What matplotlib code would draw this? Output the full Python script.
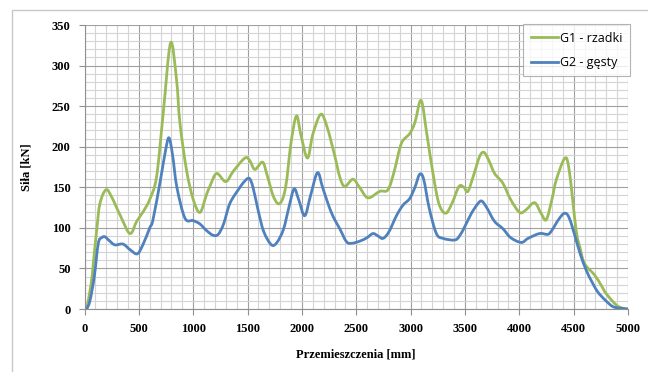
import matplotlib
matplotlib.use("Agg")
import matplotlib.pyplot as plt
from matplotlib.patches import Rectangle, PathPatch
from matplotlib.path import Path
from matplotlib.lines import Line2D
from matplotlib.ticker import MultipleLocator

# G1 - rzadki
g1_x = [20, 60, 81, 112, 142, 198, 250, 330, 418, 480, 540, 600, 663, 724, 792,
        847, 878, 939, 1000, 1062, 1120, 1153, 1215, 1300, 1370, 1475, 1520, 1567,
        1638, 1680, 1740, 1797, 1850, 1900, 1950, 1990, 2051, 2100, 2173, 2230,
        2300, 2348, 2394, 2470, 2530, 2608, 2716, 2792, 2850, 2915, 2991, 3040,
        3097, 3150, 3206, 3260, 3322, 3380, 3445, 3490, 3527, 3580, 3635, 3675,
        3720, 3773, 3849, 3920, 4003, 4060, 4140, 4200, 4248, 4300, 4340, 4420,
        4460, 4523, 4560, 4600, 4692, 4750, 4799, 4891, 4950, 5000]
g1_y = [0, 30, 56, 97, 130, 147, 138, 115, 93, 108, 120, 135, 163, 241, 328,
        282, 229, 171, 135, 119, 140, 151, 167, 157, 170, 186, 183, 172,
        181, 165, 138, 130, 150, 205, 238, 215, 186, 215, 240, 225,
        190, 163, 151, 160, 150, 137, 145, 147, 170, 204, 216, 230,
        257, 215, 167, 130, 118, 130, 151, 150, 145, 165, 188, 193,
        183, 167, 155, 135, 119, 122, 131, 118, 110, 135, 159, 186,
        170, 97, 75, 56, 42, 30, 19, 5, 1, 0]

# G2 - gesty
g2_x = [20, 50, 90, 127, 160, 188, 230, 280, 354, 420, 486, 540, 600, 630, 700,
        745, 777, 810, 850, 924, 998, 1060, 1120, 1181, 1230, 1280, 1337, 1420,
        1470, 1515, 1550, 1600, 1650, 1720, 1770, 1830, 1880, 1928, 1970, 2026,
        2080, 2143, 2190, 2240, 2287, 2348, 2410, 2460, 2540, 2600, 2654, 2700,
        2746, 2800, 2870, 2930, 2991, 3040, 3083, 3120, 3170, 3237, 3300, 3405,
        3450, 3500, 3560, 3620, 3655, 3700, 3772, 3849, 3920, 4018, 4080, 4186,
        4262, 4300, 4360, 4416, 4460, 4523, 4560, 4615, 4670, 4722, 4790, 4860,
        4930, 5000]
g2_y = [0, 10, 40, 81, 88, 89, 84, 79, 80, 73, 68, 80, 100, 110, 160,
        195, 211, 190, 150, 112, 109, 105, 97, 91, 92, 105, 130, 148,
        157, 161, 150, 120, 95, 79, 82, 98, 125, 148, 135, 115,
        140, 168, 150, 130, 114, 99, 83, 81, 84, 88, 93, 90,
        87, 95, 115, 128, 136, 150, 166, 160, 125, 93, 87, 85,
        90, 102, 118, 130, 133, 125, 108, 99, 88, 82, 87, 93,
        92, 97, 110, 118, 112, 85, 68, 48, 33, 21, 11, 3,
        1, 0]

x_ticks = list(range(0, 5001, 500))
y_ticks = list(range(0, 351, 50))


def smooth_line(ax, xs, ys, color, label):
    # wygladzona linia jak w Excelu (krzywe Beziera przez punkty pomiarowe)
    pts = list(zip(xs, ys))
    verts = [pts[0]]
    codes = [Path.MOVETO]
    n = len(pts)
    for i in range(n - 1):
        p0 = pts[i - 1] if i > 0 else pts[i]
        p1 = pts[i]
        p2 = pts[i + 1]
        p3 = pts[i + 2] if i + 2 < n else pts[i + 1]
        c1 = (p1[0] + (p2[0] - p0[0]) / 6, p1[1] + (p2[1] - p0[1]) / 6)
        c2 = (p2[0] - (p3[0] - p1[0]) / 6, p2[1] - (p3[1] - p1[1]) / 6)
        verts += [c1, c2, p2]
        codes += [Path.CURVE4] * 3
    patch = PathPatch(Path(verts, codes), facecolor="none", edgecolor=color,
                      linewidth=2.0, joinstyle="round", capstyle="round")
    ax.add_patch(patch)
    return Line2D([], [], color=color, linewidth=2.0, label=label)


fig = plt.figure(figsize=(6.48, 3.72), dpi=100)
ax = fig.add_axes([84.5 / 648, 63 / 372, 543.5 / 648, 284 / 372])

# ramka wokol calego wykresu
fig.patches.append(Rectangle((12 / 648, -0.1), 1.2, 1 - 10 / 372 + 0.1,
                             transform=fig.transFigure, fill=False,
                             edgecolor="#c8c8c8", linewidth=1.0))

h1 = smooth_line(ax, g1_x, g1_y, "#9BBB59", "G1 - rzadki")
h2 = smooth_line(ax, g2_x, g2_y, "#4F81BD", "G2 - gęsty")

ax.set_xlim(0, 5000)
ax.set_ylim(0, 350)
ax.set_xticks(x_ticks)
ax.set_yticks(y_ticks)
ax.xaxis.set_minor_locator(MultipleLocator(100))
ax.yaxis.set_minor_locator(MultipleLocator(10))
ax.grid(which="major", color="#a0a0a0", linewidth=0.8)
ax.grid(which="minor", color="#d4d4d4", linewidth=0.8)
ax.set_axisbelow(True)

for s in ["top", "right"]:
    ax.spines[s].set_visible(False)
for s in ["left", "bottom"]:
    ax.spines[s].set_color("#909090")
ax.tick_params(which="major", length=4, color="#909090", direction="out",
               pad=6)
ax.tick_params(which="minor", length=0)

for lab in ax.get_xticklabels() + ax.get_yticklabels():
    lab.set_fontfamily("Liberation Serif")
    lab.set_fontsize(9)
    lab.set_fontweight("bold")

ax.set_xlabel("Przemieszczenia [mm]", fontfamily="Liberation Serif",
              fontsize=9, fontweight="bold", labelpad=10)
ax.set_ylabel("Siła [kN]", fontfamily="Liberation Serif", fontsize=9,
              fontweight="bold", labelpad=14)

leg = ax.legend(handles=[h1, h2], loc="upper right",
                bbox_to_anchor=(1.003, 1.003),
                frameon=True, fancybox=False, borderaxespad=0,
                prop={"family": "Open Sans", "size": 9},
                handlelength=2.2, handletextpad=0.1, labelspacing=0.9,
                borderpad=0.6)
leg.get_frame().set_edgecolor("#a0a0a0")
leg.get_frame().set_linewidth(0.8)

fig.savefig("out.png", dpi=100)
